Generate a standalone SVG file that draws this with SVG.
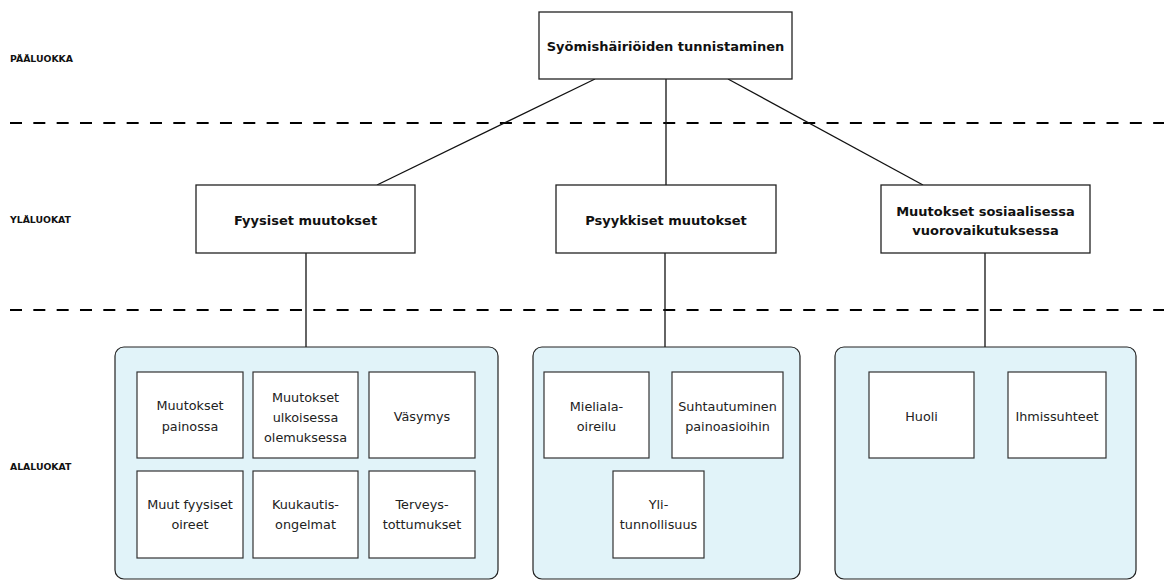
<svg xmlns="http://www.w3.org/2000/svg" width="1164" height="581" viewBox="0 0 1164 581">
<style>
.bg{fill:#ffffff}
.dash{stroke:#000;stroke-width:2.2;stroke-dasharray:12 11.33;fill:none}
.lvl{font-family:"DejaVu Sans",Verdana,sans-serif;font-weight:bold;font-size:9.3px;fill:#111}
.main{fill:#fff;stroke:#222;stroke-width:1.3}
.hd{font-family:"DejaVu Sans",Verdana,sans-serif;font-weight:bold;font-size:13px;fill:#111;text-anchor:middle}
.cont{fill:#e1f3f9;stroke:#222;stroke-width:1.2}
.sub{fill:#fff;stroke:#333;stroke-width:1.2}
.tx{font-family:"DejaVu Sans",Verdana,sans-serif;font-size:12.8px;fill:#222;text-anchor:middle}
.ln{stroke:#111;stroke-width:1.3;fill:none}
</style>
<rect class="bg" x="0" y="0" width="1164" height="581"/>
<g id="dividers">
<line class="dash" x1="10" y1="123" x2="1164" y2="123"/>
<line class="dash" x1="10" y1="310" x2="1164" y2="310"/>
</g>
<g id="level-labels">
<text class="lvl" x="10" y="61.5">PÄÄLUOKKA</text>
<text class="lvl" x="10" y="222.5">YLÄLUOKAT</text>
<text class="lvl" x="10" y="469.5">ALALUOKAT</text>
</g>
<g id="connectors">
<line class="ln" x1="595" y1="79" x2="377" y2="185"/>
<line class="ln" x1="666" y1="79" x2="666" y2="185"/>
<line class="ln" x1="728" y1="79" x2="923" y2="185"/>
<line class="ln" x1="306" y1="253" x2="306" y2="347"/>
<line class="ln" x1="665" y1="253" x2="665" y2="347"/>
<line class="ln" x1="985" y1="253" x2="985" y2="347"/>
</g>
<g id="root">
<rect class="main" x="539" y="12" width="253" height="67"/>
<text class="hd" x="665.5" y="50.5">Syömishäiriöiden tunnistaminen</text>
</g>
<g id="fyysiset">
<rect class="main" x="196" y="185" width="219" height="68"/>
<text class="hd" x="305.5" y="224.5">Fyysiset muutokset</text>
</g>
<g id="psyykkiset">
<rect class="main" x="556" y="185" width="220" height="68"/>
<text class="hd" x="666" y="224.5">Psyykkiset muutokset</text>
</g>
<g id="sosiaaliset">
<rect class="main" x="881" y="185" width="209" height="68"/>
<text class="hd" x="985.5" y="215.5">Muutokset sosiaalisessa</text>
<text class="hd" x="985.5" y="234.5">vuorovaikutuksessa</text>
</g>
<g id="fyysiset-alaluokat">
<rect class="cont" x="115" y="347" width="383" height="232" rx="9"/>
</g>
<g id="muutokset-painossa">
<rect class="sub" x="137" y="372" width="106" height="86"/>
<text class="tx" x="190" y="409.5">Muutokset</text>
<text class="tx" x="190" y="430.5">painossa</text>
</g>
<g id="ulkoinen-olemus">
<rect class="sub" x="253" y="372" width="105" height="86"/>
<text class="tx" x="305.5" y="401.5">Muutokset</text>
<text class="tx" x="305.5" y="421.5">ulkoisessa</text>
<text class="tx" x="305.5" y="441.5">olemuksessa</text>
</g>
<g id="vasymys">
<rect class="sub" x="369" y="372" width="106" height="86"/>
<text class="tx" x="422" y="420.5">Väsymys</text>
</g>
<g id="muut-oireet">
<rect class="sub" x="137" y="471" width="106" height="87"/>
<text class="tx" x="190" y="508.5">Muut fyysiset</text>
<text class="tx" x="190" y="528.5">oireet</text>
</g>
<g id="kuukautis">
<rect class="sub" x="253" y="471" width="105" height="87"/>
<text class="tx" x="305.5" y="508.5">Kuukautis-</text>
<text class="tx" x="305.5" y="528.5">ongelmat</text>
</g>
<g id="terveys">
<rect class="sub" x="369" y="471" width="106" height="87"/>
<text class="tx" x="422" y="508.5">Terveys-</text>
<text class="tx" x="422" y="528.5">tottumukset</text>
</g>
<g id="psyykkiset-alaluokat">
<rect class="cont" x="533" y="347" width="267" height="232" rx="9"/>
</g>
<g id="mieliala">
<rect class="sub" x="544" y="372" width="105" height="86"/>
<text class="tx" x="596.5" y="410.5">Mieliala-</text>
<text class="tx" x="596.5" y="430.5">oireilu</text>
</g>
<g id="suhtautuminen">
<rect class="sub" x="672" y="372" width="111" height="86"/>
<text class="tx" x="727.5" y="410.5">Suhtautuminen</text>
<text class="tx" x="727.5" y="430.5">painoasioihin</text>
</g>
<g id="ylitunnollisuus">
<rect class="sub" x="613" y="471" width="91" height="87"/>
<text class="tx" x="658.5" y="508.5">Yli-</text>
<text class="tx" x="658.5" y="528.5">tunnollisuus</text>
</g>
<g id="sosiaaliset-alaluokat">
<rect class="cont" x="835" y="347" width="301" height="232" rx="9"/>
</g>
<g id="huoli">
<rect class="sub" x="869" y="372" width="105" height="86"/>
<text class="tx" x="921.5" y="420.5">Huoli</text>
</g>
<g id="ihmissuhteet">
<rect class="sub" x="1008" y="372" width="98" height="86"/>
<text class="tx" x="1057" y="420.5">Ihmissuhteet</text>
</g>
</svg>
